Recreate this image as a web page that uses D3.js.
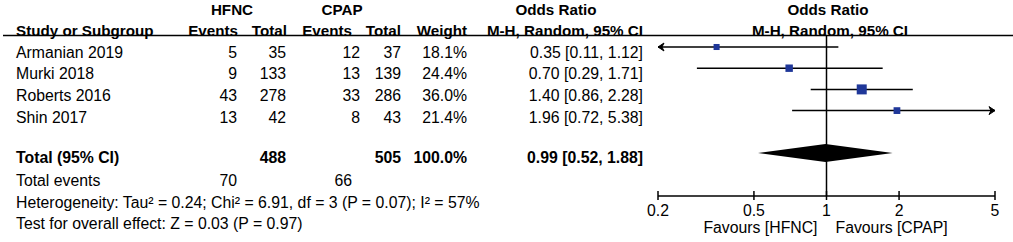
<!DOCTYPE html>
<html>
<head>
<meta charset="utf-8">
<script src="https://cdn.jsdelivr.net/npm/d3@7"></script>
<style>
  body { margin: 0; background: #fff; }
  svg { display: block; font-family: "Liberation Sans", Arial, sans-serif; font-size: 15.8px; }
  .b { font-weight: bold; }
  .h { font-weight: bold; font-size: 15.2px; }
</style>
</head>
<body>
<svg width="1013" height="242"></svg>
<script>
// study rows
const studies = ["Armanian 2019", "Murki 2018", "Roberts 2016", "Shin 2017"];
const hfncEvents = [5, 9, 43, 13];
const hfncTotal = [35, 133, 278, 42];
const cpapEvents = [12, 13, 33, 8];
const cpapTotal = [37, 139, 286, 43];
const weights = [18.1, 24.4, 36.0, 21.4];
const oddsRatio = [0.35, 0.70, 1.40, 1.96];
const ciLow = [0.11, 0.29, 0.86, 0.72];
const ciHigh = [1.12, 1.71, 2.28, 5.38];

// pooled
const pooled = { or: 0.99, lo: 0.52, hi: 1.88 };
const totals = [488, 505];
const totalEvents = [70, 66];
const axisTicks = [0.2, 0.5, 1, 2, 5];

const svg = d3.select("svg");

// log scale for the forest plot
const x = d3.scaleLog().domain([0.2, 5]).range([658, 995]);
const size = d3.scaleLinear().domain([0, 36]).range([2, 10]);
const rowText = d3.scaleLinear().domain([0, 1]).range([57.5, 79.2]);
const rowPlot = d3.scaleLinear().domain([0, 1]).range([47, 68.2]);

// column right edges
const col = { study: 16, hE: 237, hT: 286, cE: 360, cT: 401, w: 467, or: 643 };
const fmt = d3.format(".2f");

function txt(x0, y0, s, anchor, cls) {
  return svg.append("text").attr("x", x0).attr("y", y0)
    .attr("text-anchor", anchor || "end").attr("class", cls || null).text(s);
}

// headers
txt(232, 15, "HFNC", "middle", "h");
txt(342, 15, "CPAP", "middle", "h");
txt(556, 15, "Odds Ratio", "middle", "h");
txt(828, 15, "Odds Ratio", "middle", "h");
txt(col.study, 35.5, "Study or Subgroup", "start", "h");
txt(238, 35.5, "Events", "end", "h");
txt(287, 35.5, "Total", "end", "h");
txt(352, 35.5, "Events", "end", "h");
txt(col.cT, 35.5, "Total", "end", "h");
txt(col.w, 35.5, "Weight", "end", "h");
txt(col.or, 35.5, "M-H, Random, 95% CI", "end", "h");
txt(830, 35.5, "M-H, Random, 95% CI", "middle", "h");

svg.append("line").attr("x1", 3).attr("x2", 1013).attr("y1", 35.5).attr("y2", 35.5)
  .attr("stroke", "#000").attr("stroke-width", 1.5);

// study rows text
studies.forEach((s, i) => {
  const y = rowText(i);
  txt(col.study, y, s, "start");
  txt(col.hE, y, hfncEvents[i]);
  txt(col.hT, y, hfncTotal[i]);
  txt(col.cE, y, cpapEvents[i]);
  txt(col.cT, y, cpapTotal[i]);
  txt(col.w, y, weights[i].toFixed(1) + "%");
  txt(col.or, y, `${fmt(oddsRatio[i])} [${fmt(ciLow[i])}, ${fmt(ciHigh[i])}]`);
});

// totals
txt(col.study, 162.5, "Total (95% CI)", "start", "b");
txt(col.hT, 162.5, totals[0], "end", "b");
txt(col.cT, 162.5, totals[1], "end", "b");
txt(col.w, 162.5, "100.0%", "end", "b");
txt(col.or, 162.5, `${fmt(pooled.or)} [${fmt(pooled.lo)}, ${fmt(pooled.hi)}]`, "end", "b");
txt(col.study, 185.5, "Total events", "start");
txt(col.hE, 185.5, totalEvents[0]);
txt(352, 185.5, totalEvents[1]);
txt(col.study, 207.5, "Heterogeneity: Tau\u00b2 = 0.24; Chi\u00b2 = 6.91, df = 3 (P = 0.07); I\u00b2 = 57%", "start");
txt(col.study, 228.5, "Test for overall effect: Z = 0.03 (P = 0.97)", "start");

// forest plot
const plot = svg.append("g");
plot.append("line").attr("x1", x(1)).attr("x2", x(1)).attr("y1", 35).attr("y2", 196)
  .attr("stroke", "#000").attr("stroke-width", 1.5);

const [dMin, dMax] = x.domain();
studies.forEach((s, i) => {
  const y = rowPlot(i);
  const lo = Math.max(ciLow[i], dMin), hi = Math.min(ciHigh[i], dMax);
  plot.append("line").attr("x1", x(lo)).attr("x2", x(hi)).attr("y1", y).attr("y2", y)
    .attr("stroke", "#000").attr("stroke-width", 1.5);
  if (ciLow[i] < dMin) {
    const ax = x(dMin);
    plot.append("path").attr("d", `M${ax},${y}L${ax + 6},${y - 4}L${ax + 4},${y}L${ax + 6},${y + 4}Z`)
      .attr("fill", "#000").attr("stroke", "#000").attr("stroke-width", 1);
  }
  if (ciHigh[i] > dMax) {
    const ax = x(dMax);
    plot.append("path").attr("d", `M${ax},${y}L${ax - 6},${y - 4}L${ax - 4},${y}L${ax - 6},${y + 4}Z`)
      .attr("fill", "#000").attr("stroke", "#000").attr("stroke-width", 1);
  }
  const s2 = size(weights[i]);
  plot.append("rect").attr("x", x(oddsRatio[i]) - s2 / 2).attr("y", y - s2 / 2)
    .attr("width", s2).attr("height", s2).attr("fill", "#1f3799");
});

// pooled diamond
const dy = 153;
plot.append("path")
  .attr("d", `M${x(pooled.lo)},${dy}L${x(pooled.or)},${dy - 9}L${x(pooled.hi)},${dy}L${x(pooled.or)},${dy + 9}Z`)
  .attr("fill", "#000");

// axis
const ax = plot.append("g").attr("transform", "translate(0,196)");
ax.append("line").attr("x1", x(dMin)).attr("x2", x(dMax)).attr("stroke", "#000").attr("stroke-width", 1.5);
ax.selectAll(".tk").data(axisTicks).join("line").attr("class", "tk")
  .attr("x1", d => x(d)).attr("x2", d => x(d)).attr("y1", -5).attr("y2", 4)
  .attr("stroke", "#000").attr("stroke-width", 1.5);
ax.selectAll(".tl").data(axisTicks).join("text").attr("class", "tl")
  .attr("x", d => x(d)).attr("y", 20).attr("text-anchor", "middle").text(d => d);

txt(x(1) - 9, 233, "Favours [HFNC]", "end");
txt(x(1) + 9, 233, "Favours [CPAP]", "start");
</script>
</body>
</html>
